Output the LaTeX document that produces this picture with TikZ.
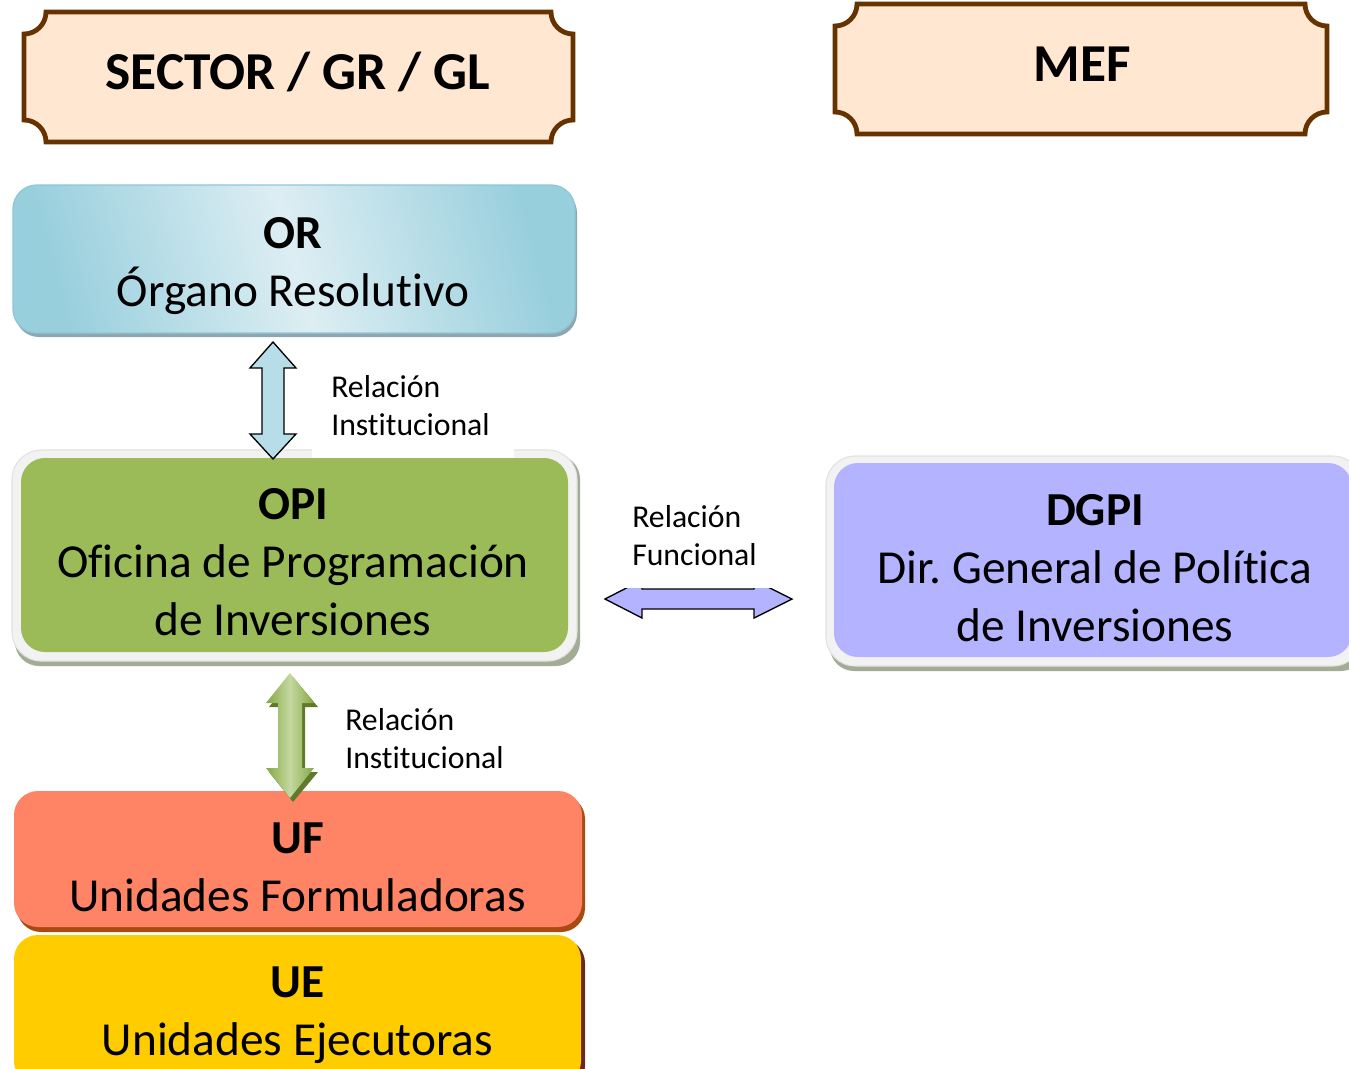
\documentclass[tikz,border=0pt]{standalone}
\usepackage{fontspec}
\setmainfont{Carlito}[Ligatures={NoCommon}]
\frenchspacing
\definecolor{plaq}{HTML}{FFE7D1}
\definecolor{brownline}{HTML}{663300}
\definecolor{orlight}{HTML}{DDEEF3}
\definecolor{ordark}{HTML}{98CFDD}
\definecolor{orline}{HTML}{8EC7D6}
\definecolor{orshadow}{HTML}{8FA6B1}
\definecolor{halo}{HTML}{F2F2F2}
\definecolor{haloline}{HTML}{E2E2E2}
\definecolor{haloshadow}{HTML}{A3AD95}
\definecolor{opigreen}{HTML}{9BBB59}
\definecolor{dgpiblue}{HTML}{B3B3FF}
\definecolor{ufred}{HTML}{FF8466}
\definecolor{ufshadow}{HTML}{A94B10}
\definecolor{ueyellow}{HTML}{FFCC00}
\definecolor{ueshadow}{HTML}{6B2626}
\definecolor{arrblue}{HTML}{B7DDE8}
\definecolor{grdark}{HTML}{86A845}
\definecolor{grlight}{HTML}{C4D8A0}
\definecolor{grshadow}{HTML}{5E7A2A}
\tikzset{
  bigtext/.style={font=\fontsize{35.5}{43.5}\selectfont, align=center, inner sep=0pt},
  headtext/.style={font=\fontsize{40}{48}\selectfont\bfseries, inner sep=0pt},
  lbltext/.style={font=\fontsize{23.8}{28.5}\selectfont, align=left, inner sep=0pt, anchor=base west},
  plaque/.style={fill=plaq, draw=brownline, line width=3.6pt, line join=miter},
  boxr/.style={rounded corners=18pt},
  blockarrow/.style={draw=black, line width=1pt, line join=miter},
}
\begin{document}
\begin{tikzpicture}[x=0.75pt, y=-0.75pt]
\useasboundingbox (0,0) rectangle (1349,1068);
\clip (0,0) rectangle (1349,1068);
\fill[white] (0,0) rectangle (1349,1068);

% plaques
\path[plaque] (46,12) -- (551,12) .. controls (551,24.1) and (560.9,34) .. (573,34) -- (573,120) .. controls (560.9,120) and (551,129.9) .. (551,142) -- (46,142) .. controls (46,129.9) and (36.1,120) .. (24,120) -- (24,34) .. controls (36.1,34) and (46,24.1) .. (46,12) -- cycle;
\node[headtext] (sector) at (298,72) {SECTOR / GR / GL};

\path[plaque] (857,4) -- (1305,4) .. controls (1305,16.1) and (1314.9,26) .. (1327,26) -- (1327,112) .. controls (1314.9,112) and (1305,121.9) .. (1305,134) -- (857,134) .. controls (857,121.9) and (847.1,112) .. (835,112) -- (835,26) .. controls (847.1,26) and (857,16.1) .. (857,4) -- cycle;
\node[headtext] (mef) at (1082,64) {MEF};

% OR
\fill[orshadow, boxr] (15,189) rectangle (577,337);
\shade[boxr, left color=ordark, right color=ordark, middle color=orlight, shading angle=105] (13,185) rectangle (575,333);
\draw[orline, line width=1pt, boxr] (13,185) rectangle (575,333);
\node[bigtext, anchor=base] (or) at (293,306) {\textbf{OR}\\Órgano Resolutivo};

% OPI
\fill[haloshadow, boxr] (15,455) rectangle (580,666);
\draw[haloline, fill=halo, line width=0.8pt, rounded corners=22pt] (12,450) rectangle (577,661);
\fill[opigreen, boxr] (21,458) rectangle (568,652);
\node[bigtext, anchor=base] (opi) at (293,635) {\textbf{OPI}\\Oficina de Programación\\de Inversiones};

% DGPI
\fill[haloshadow, boxr] (830,462) rectangle (1365,671);
\draw[haloline, fill=halo, line width=0.8pt, rounded corners=22pt] (826,456) rectangle (1362,666);
\fill[dgpiblue, boxr] (834,463) rectangle (1352,657);
\node[bigtext, anchor=base] (dgpi) at (1095,641) {\textbf{DGPI}\\Dir. General de Política\\de Inversiones};

% UF
\fill[ufshadow, boxr] (17,795) rectangle (585,932);
\fill[ufred, boxr] (14,791) rectangle (582,927);
\node[bigtext, anchor=base] (uf) at (297.5,911) {\textbf{UF}\\Unidades Formuladoras};

% UE
\fill[ueshadow, boxr] (17,939) rectangle (585,1090);
\fill[ueyellow, boxr] (14,935) rectangle (581,1085);
\node[bigtext, anchor=base] (ue) at (297.5,1055) {\textbf{UE}\\Unidades Ejecutoras};

% arrow OR <-> OPI
\draw[blockarrow, fill=arrblue] (273,342) -- (296,368) -- (284,368) -- (284,434) -- (296,434) -- (273,459) -- (250,434) -- (262,434) -- (262,368) -- (250,368) -- cycle;
\fill[white] (312,365) rectangle (514,458);
\node[lbltext] (lbl1) at (331,435) {Relación\\Institucional};

% arrow OPI <-> DGPI
\draw[blockarrow, fill=dgpiblue] (605,599) -- (642,580) -- (642,589) -- (754,589) -- (754,580) -- (792,599) -- (754,618) -- (754,609) -- (642,609) -- (642,618) -- cycle;
\fill[white] (600,490) rectangle (796,587.5);
\node[lbltext] (lbl2) at (632,565) {Relación\\Funcional};

% arrow OPI <-> UF
\fill[grshadow] (293,677) -- (318,707) -- (305,707) -- (305,772) -- (318,772) -- (293,802) -- (269,772) -- (281,772) -- (281,707) -- (269,707) -- cycle;
\shade[left color=grdark, right color=grdark, middle color=grlight] (290,673) -- (314,703) -- (302,703) -- (302,768) -- (314,768) -- (290,798) -- (266,768) -- (278,768) -- (278,703) -- (266,703) -- cycle;
\fill[white] (325,700) rectangle (528,790);
\node[lbltext] (lbl3) at (345,768) {Relación\\Institucional};
\end{tikzpicture}
\end{document}
